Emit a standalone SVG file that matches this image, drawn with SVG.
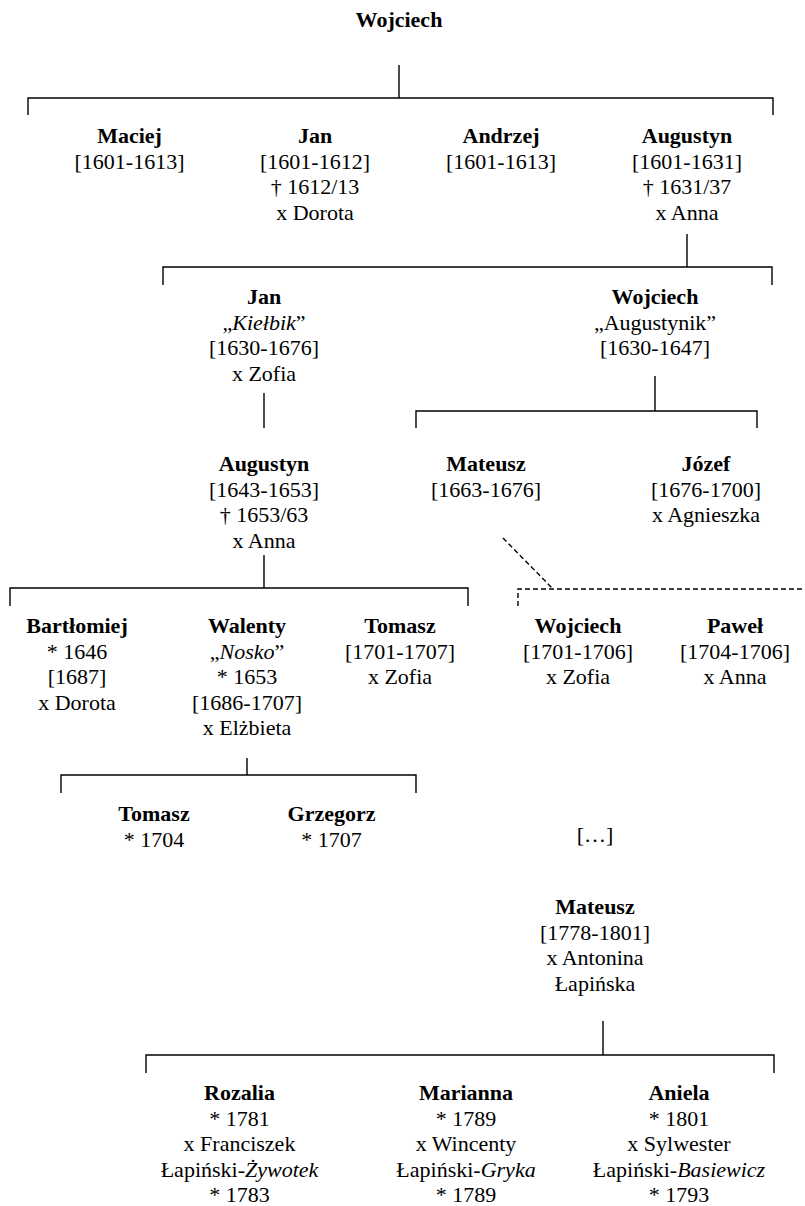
<svg xmlns="http://www.w3.org/2000/svg" width="805" height="1206" viewBox="0 0 805 1206">
<style>
text{font-family:"Liberation Serif","Times New Roman",serif;font-size:22px;fill:#000;text-anchor:middle}
.b{font-weight:bold}
.i{font-style:italic}
.c{fill:none;stroke:#000;stroke-width:1.4}
.d{fill:none;stroke:#000;stroke-width:1.4;stroke-dasharray:5 3}
</style>
<rect width="805" height="1206" fill="#fff"/>
<g id="connectors">
<path class="c" d="M399,65 V98 M28,115 V98 H773 V115"/>
<path class="c" d="M687,234 V267 M163,285 V267 H772 V285"/>
<path class="c" d="M264,393 V428"/>
<path class="c" d="M655,376 V411 M416,428 V411 H757 V428"/>
<path class="c" d="M264,555 V588 M10,606 V588 H468 V606"/>
<path class="d" d="M503,538 L553,589"/>
<path class="d" d="M518,606 V589 H805"/>
<path class="c" d="M247,758 V775 M61,793 V775 H416 V793"/>
<path class="c" d="M603,1021 V1055 M146,1073 V1055 H774 V1073"/>
</g>
<g id="root"><text class="b" x="399" y="27">Wojciech</text></g>
<g id="maciej"><text class="b" x="129.5" y="143">Maciej</text><text x="129.5" y="168.5">[1601-1613]</text></g>
<g id="jan1"><text class="b" x="315" y="143">Jan</text><text x="315" y="168.5">[1601-1612]</text><text x="315" y="194">† 1612/13</text><text x="315" y="219.5">x Dorota</text></g>
<g id="andrzej"><text class="b" x="501" y="143">Andrzej</text><text x="501" y="168.5">[1601-1613]</text></g>
<g id="augustyn1"><text class="b" x="687" y="143">Augustyn</text><text x="687" y="168.5">[1601-1631]</text><text x="687" y="194">† 1631/37</text><text x="687" y="219.5">x Anna</text></g>
<g id="jan2"><text class="b" x="264" y="304">Jan</text><text x="264" y="329.5">„<tspan class="i">Kiełbik</tspan>”</text><text x="264" y="355">[1630-1676]</text><text x="264" y="380.5">x Zofia</text></g>
<g id="wojciech2"><text class="b" x="655" y="304">Wojciech</text><text x="655" y="329.5">„Augustynik”</text><text x="655" y="355">[1630-1647]</text></g>
<g id="augustyn2"><text class="b" x="264" y="471">Augustyn</text><text x="264" y="496.5">[1643-1653]</text><text x="264" y="522">† 1653/63</text><text x="264" y="547.5">x Anna</text></g>
<g id="mateusz1"><text class="b" x="486" y="471">Mateusz</text><text x="486" y="496.5">[1663-1676]</text></g>
<g id="jozef"><text class="b" x="706" y="471">Józef</text><text x="706" y="496.5">[1676-1700]</text><text x="706" y="522">x Agnieszka</text></g>
<g id="bartlomiej"><text class="b" x="77" y="633">Bartłomiej</text><text x="77" y="658.5">* 1646</text><text x="77" y="684">[1687]</text><text x="77" y="709.5">x Dorota</text></g>
<g id="walenty"><text class="b" x="247" y="633">Walenty</text><text x="247" y="658.5">„<tspan class="i">Nosko</tspan>”</text><text x="247" y="684">* 1653</text><text x="247" y="709.5">[1686-1707]</text><text x="247" y="735">x Elżbieta</text></g>
<g id="tomasz1"><text class="b" x="400" y="633">Tomasz</text><text x="400" y="658.5">[1701-1707]</text><text x="400" y="684">x Zofia</text></g>
<g id="wojciech3"><text class="b" x="578" y="633">Wojciech</text><text x="578" y="658.5">[1701-1706]</text><text x="578" y="684">x Zofia</text></g>
<g id="pawel"><text class="b" x="735" y="633">Paweł</text><text x="735" y="658.5">[1704-1706]</text><text x="735" y="684">x Anna</text></g>
<g id="tomasz2"><text class="b" x="154" y="821">Tomasz</text><text x="154" y="846.5">* 1704</text></g>
<g id="grzegorz"><text class="b" x="331.5" y="821">Grzegorz</text><text x="331.5" y="846.5">* 1707</text></g>
<g id="ellipsis"><text x="595" y="842">[…]</text></g>
<g id="mateusz2"><text class="b" x="595" y="914">Mateusz</text><text x="595" y="939.5">[1778-1801]</text><text x="595" y="965">x Antonina</text><text x="595" y="990.5">Łapińska</text></g>
<g id="rozalia"><text class="b" x="239.5" y="1100">Rozalia</text><text x="239.5" y="1125.5">* 1781</text><text x="239.5" y="1151">x Franciszek</text><text x="239.5" y="1176.5">Łapiński-<tspan class="i">Żywotek</tspan></text><text x="239.5" y="1202">* 1783</text></g>
<g id="marianna"><text class="b" x="466" y="1100">Marianna</text><text x="466" y="1125.5">* 1789</text><text x="466" y="1151">x Wincenty</text><text x="466" y="1176.5">Łapiński-<tspan class="i">Gryka</tspan></text><text x="466" y="1202">* 1789</text></g>
<g id="aniela"><text class="b" x="679" y="1100">Aniela</text><text x="679" y="1125.5">* 1801</text><text x="679" y="1151">x Sylwester</text><text x="679" y="1176.5">Łapiński-<tspan class="i">Basiewicz</tspan></text><text x="679" y="1202">* 1793</text></g>
</svg>
